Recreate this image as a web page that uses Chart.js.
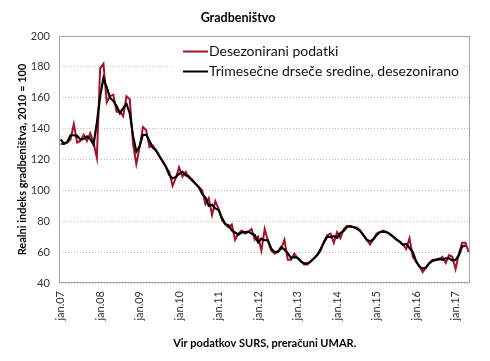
<!DOCTYPE html>
<html>
<head>
<meta charset="utf-8">
<script src="https://cdn.jsdelivr.net/npm/chart.js@4.4.1/dist/chart.umd.min.js"></script>
<style>
  html, body { margin: 0; padding: 0; background: #fff; }
  #wrap { width: 490px; height: 361px; }
</style>
</head>
<body>
<div id="wrap"><canvas id="c" width="490" height="361"></canvas></div>
<script>
// monthly categories jan.07 .. maj.17
const monthNames = ['jan', 'feb', 'mar', 'apr', 'maj', 'jun', 'jul', 'avg', 'sep', 'okt', 'nov', 'dec'];
const years = ['07', '08', '09', '10', '11', '12', '13', '14', '15', '16', '17'];
const lastMonthIndex = 4; // data ends in maj.17

const labels = [];
years.forEach((y, yi) => {
  monthNames.forEach((m, mi) => {
    if (yi === years.length - 1 && mi > lastMonthIndex) return;
    labels.push(m + '.' + y);
  });
});

// Desezonirani podatki
const seasonallyAdjusted = [
  130, 130, 131, 133, 143, 131, 132, 136, 132, 137, 131, 121,
  179, 182, 157, 161, 162, 151, 151, 148, 161, 159, 130, 117,
  128, 141, 139, 128, 129, 126, 122, 119, 115, 112, 103, 108,
  115, 109, 112, 108, 107, 104, 102, 100, 91, 95, 84, 93,
  88, 81, 78, 76, 78, 68, 72, 74, 72, 73, 75, 68,
  70, 61, 75, 67, 61, 59, 60, 62, 68, 55, 55, 59,
  56, 54, 52, 52, 54, 56, 58, 61, 67, 71, 72, 66,
  73, 69, 75, 77, 77, 76, 76, 74, 71, 68, 65, 68,
  72, 73, 74, 73, 72, 70, 68, 67, 65, 62, 69, 57,
  54, 51, 47, 50, 53, 55, 55, 55, 57, 53, 58, 57,
  49, 59, 66, 66, 60
];

// Trimesečne drseče sredine, desezonirano
const movingAverage = [
  133, 130.3, 131.3, 135.7, 135.7, 135.3, 133, 133.3, 135, 133.3, 129.7, 143.7,
  160.7, 172.7, 166.7, 160, 158, 154.7, 150, 153.3, 156, 150, 135.3, 125,
  128.7, 136, 136, 132, 127.7, 125.7, 122.3, 118.7, 115.3, 110, 107.7, 108.7,
  110.7, 112, 109.7, 109, 106.3, 104.3, 102, 97.7, 95.3, 90, 90.7, 88.3,
  87.3, 82.3, 78.3, 77.3, 74, 72.7, 71.3, 72.7, 73, 73.3, 72, 71,
  66.3, 68.7, 67.7, 67.7, 62.3, 60, 60.3, 63.3, 61.7, 59.3, 56.3, 56.7,
  56.3, 54, 52.7, 52.7, 54, 56, 58.3, 62, 66.3, 70, 69.7, 70.3,
  69.3, 72.3, 73.7, 76.3, 76.7, 76.3, 75.3, 73.7, 71, 68, 67, 68.3,
  71, 73, 73.3, 73, 71.7, 70, 68.3, 66.7, 64.7, 65.3, 62.7, 60,
  54, 50.7, 49.3, 50, 52.7, 54.3, 55, 55.7, 55, 56, 56, 54.7,
  55, 58, 63.7, 64, null
];

const yTicks = [40, 60, 80, 100, 120, 140, 160, 180, 200];

Chart.defaults.font.family = 'Lato, "Open Sans", sans-serif';
Chart.defaults.color = '#333';

const boxLegend = {
  id: 'boxLegend',
  afterDatasetsDraw(chart) {
    const ctx = chart.ctx;
    ctx.save();
    ctx.fillStyle = '#fff';
    ctx.fillRect(172, 41, 292, 44);
    ctx.font = '14px Lato, "Open Sans", sans-serif';
    ctx.textBaseline = 'middle';
    ctx.textAlign = 'left';
    chart.data.datasets.forEach((ds, k) => {
      const y = 51.5 + k * 20;
      ctx.strokeStyle = ds.borderColor;
      ctx.lineWidth = 2;
      ctx.beginPath();
      ctx.moveTo(183, y);
      ctx.lineTo(208, y);
      ctx.stroke();
      ctx.fillStyle = '#111';
      ctx.fillText(ds.label, 209, y);
    });
    ctx.restore();
  }
};

const plotFrame = {
  id: 'plotFrame',
  afterDraw(chart) {
    const a = chart.chartArea;
    const ctx = chart.ctx;
    ctx.save();
    ctx.strokeStyle = '#a6a6a6';
    ctx.lineWidth = 1;
    ctx.strokeRect(Math.round(a.left) + 0.5, Math.round(a.top) + 0.5,
      Math.round(a.right - a.left) - 1, Math.round(a.bottom - a.top) - 1);
    ctx.restore();
  }
};

new Chart(document.getElementById('c'), {
  type: 'line',
  data: {
    labels: labels,
    datasets: [
      {
        label: 'Desezonirani podatki',
        data: seasonallyAdjusted,
        borderColor: '#a8102a',
        borderWidth: 2,
        pointRadius: 0,
        tension: 0,
        order: 1
      },
      {
        label: 'Trimesečne drseče sredine, desezonirano',
        data: movingAverage,
        borderColor: '#000000',
        borderWidth: 2.2,
        pointRadius: 0,
        tension: 0,
        order: 0
      }
    ]
  },
  options: {
    responsive: false,
    animation: false,
    layout: { padding: { left: 0, right: 14, bottom: 0, top: 0 } },
    plugins: {
      legend: { display: false },
      tooltip: { enabled: false },
      title: {
        display: true,
        text: 'Gradbeništvo',
        color: '#000',
        font: { size: 12.5, weight: 'bold' },
        padding: { top: 10, bottom: 11 }
      }
    },
    scales: {
      x: {
        offset: true,
        grid: { display: false, drawTicks: false },
        border: { display: false },
        ticks: {
          autoSkip: false,
          maxRotation: 90,
          minRotation: 90,
          padding: 8,
          font: { size: 11 },
          color: '#333',
          callback: function (val, idx) {
            return idx % 12 === 0 ? this.getLabelForValue(val) : '';
          }
        },
        title: {
          display: true,
          text: 'Vir podatkov SURS, preračuni UMAR.',
          color: '#000',
          font: { size: 11, weight: 'bold' },
          padding: { top: 0, bottom: 11 }
        },
        afterFit(s) { s.height = 78; }
      },
      y: {
        min: yTicks[0],
        max: yTicks[yTicks.length - 1],
        afterBuildTicks(s) { s.ticks = yTicks.map(v => ({ value: v })); },
        grid: { color: '#bdbdbd', lineWidth: 1, drawTicks: false },
        border: { display: false, dash: [1, 2] },
        ticks: {
          padding: 9,
          font: { size: 11 },
          color: '#333'
        },
        title: {
          display: true,
          text: 'Realni indeks gradbeništva, 2010 = 100',
          color: '#000',
          font: { size: 11, weight: 'bold' },
          padding: { top: 16, bottom: 0 }
        },
        afterFit(s) { s.width = 59; }
      }
    }
  },
  plugins: [boxLegend, plotFrame]
});
</script>
</body>
</html>
